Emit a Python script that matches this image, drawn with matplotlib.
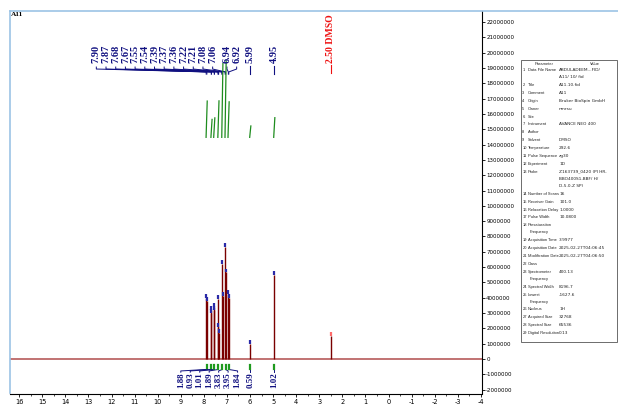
import matplotlib
matplotlib.use("Agg")
import matplotlib.pyplot as plt
from matplotlib.lines import Line2D
from matplotlib.patches import Rectangle
from matplotlib.ticker import MultipleLocator, FuncFormatter

# ---------------- data ----------------
sample_title = "A11"

# spectrum peaks (ppm, intensity)
peak_ppm = [7.90, 7.87, 7.68, 7.67, 7.55, 7.54, 7.39, 7.37, 7.36, 7.22, 7.17,
            7.08, 7.05, 6.94, 6.92, 5.99, 4.95, 2.50]
peak_height = [4.0e6, 3.8e6, 3.2e6, 3.0e6, 3.4e6, 3.2e6, 3.9e6, 2.1e6, 1.7e6,
               6.2e6, 4.1e6, 7.3e6, 5.65e6, 4.25e6, 4.0e6, 1.0e6, 5.5e6, 1.5e6]

cluster_labels = ["7.90", "7.87", "7.68", "7.67", "7.55", "7.54", "7.39", "7.37",
                  "7.36", "7.22", "7.21", "7.08", "7.06", "6.94", "6.92"]
single_labels = ["5.99", "4.95"]
solvent_label = "2.50 DMSO"

integral_ppm = [7.88, 7.67, 7.55, 7.37, 7.20, 7.06, 6.93, 5.99, 4.95]
integral_values = [1.88, 0.93, 1.01, 1.89, 3.83, 3.95, 1.84, 0.59, 1.02]

x_ticks = list(range(16, -5, -1))
y_ticks = [v * 1000000 for v in range(-2, 23)]

param_numbers = list(range(1, 30))
param_names = ["Data File Name", "Title", "Comment", "Origin", "Owner", "Site",
               "Instrument", "Author", "Solvent", "Temperature", "Pulse Sequence",
               "Experiment", "Probe", "Number of Scans", "Receiver Gain",
               "Relaxation Delay", "Pulse Width", "Presaturation\nFrequency",
               "Acquisition Time", "Acquisition Date", "Modification Date", "Class",
               "Spectrometer\nFrequency", "Spectral Width", "Lowest\nFrequency",
               "Nucleus", "Acquired Size", "Spectral Size", "Digital Resolution"]
param_values = ["ABDULADEEM...FID/\nA11/ 10/ fid", "A11.10.fid", "A11",
                "Bruker BioSpin GmbH", "nmrsu", "", "AVANCE NEO 400", "", "DMSO",
                "292.6", "zg30", "1D",
                "Z163739_0420 (PI HR-\nBBO400S1-BBF/ H/\nD-5.0-Z SP)",
                "16", "101.0", "1.0000", "10.0800", "", "3.9977",
                "2025-02-27T04:06:45", "2025-02-27T04:06:50", "", "400.13",
                "8196.7", "-1627.6", "1H", "32768", "65536", "0.13"]

# ---------------- figure ----------------
W, H = 618, 407
fig = plt.figure(figsize=(W / 100, H / 100), dpi=100)
fig.patch.set_facecolor("white")


def fx(x):
    return x / W


def fy(y):
    return 1 - y / H


ax = fig.add_axes([fx(10), fy(393.5), 472 / W, 382.5 / H])
ax.set_xlim(16.4, -4.05)
ax.set_ylim(-2.252e6, 22.718e6)

ax.spines["top"].set_visible(False)
ax.spines["left"].set_color("#9cc3e5")
ax.spines["left"].set_linewidth(1.2)
ax.spines["right"].set_color("black")
ax.spines["right"].set_linewidth(0.8)
ax.spines["bottom"].set_color("black")
ax.spines["bottom"].set_linewidth(0.8)

ax.yaxis.tick_right()
ax.set_yticks(y_ticks)
ax.yaxis.set_major_formatter(FuncFormatter(lambda v, p: "%d" % int(round(v))))
ax.tick_params(axis="y", which="both", left=False, right=True, direction="out",
               length=2.2, width=0.6, labelsize=4.0, pad=0.8)
ax.set_xticks(x_ticks)
ax.xaxis.set_major_formatter(FuncFormatter(lambda v, p: "%d" % int(round(v))))
ax.xaxis.set_minor_locator(MultipleLocator(0.5))
ax.tick_params(axis="x", which="major", direction="out", length=2.5, width=0.6,
               labelsize=4.8, pad=1.3)
ax.tick_params(axis="x", which="minor", direction="out", length=1.3, width=0.5)

# spectrum
ax.axhline(0, color="#b04c4c", lw=1.1, zorder=2)
ax.vlines(peak_ppm, 0, peak_height, color="#7a0000", lw=1.0, zorder=3)
# peak-pick markers
navy = "#101080"
ax.vlines(peak_ppm[:-1], [h for h in peak_height[:-1]],
          [h + 0.25e6 for h in peak_height[:-1]], color="#2a2aa8", lw=1.6, zorder=4)
ax.vlines(peak_ppm[-1:], peak_height[-1:], [peak_height[-1] + 0.25e6],
          color="#ff6b6b", lw=1.6, zorder=4)

# integral curves
int_base = 14.47e6
int_scale = 1.26e6
for c, v in zip(integral_ppm, integral_values):
    ax.plot([c + 0.025, c - 0.025], [int_base, int_base + v * int_scale],
            color="#1e8c1e", lw=0.9, zorder=3)

# ---- top peak labels ----
lab_font = dict(family=["Liberation Serif", "DejaVu Serif"], weight="bold")
step = 0.42
n_left = 13
left_anchor = 7.62
right_anchor = 7.00
label_pos = [left_anchor + step * (n_left - 1 - k) for k in range(n_left)]
label_pos += [right_anchor - step * k for k in range(len(cluster_labels) - n_left)]
y_text = 19.3e6
y1, y2, y3, y4 = 19.06e6, 18.93e6, 18.74e6, 18.6e6
for lab, lx in zip(cluster_labels, label_pos):
    ax.text(lx, y_text, lab, rotation=90, ha="center", va="bottom", color=navy,
            fontsize=7.5, **lab_font)
    px = float(lab)
    ax.plot([lx, lx, px, px], [y1, y2, y3, y4], color=navy, lw=0.7)
for lab in single_labels:
    px = float(lab)
    ax.text(px, y_text, lab, rotation=90, ha="center", va="bottom", color=navy,
            fontsize=7.5, **lab_font)
    ax.plot([px, px], [19.1e6, 18.6e6], color=navy, lw=0.8)
dmso_x = float(solvent_label.split()[0])
ax.text(dmso_x, 19.3e6, solvent_label, rotation=90, ha="center", va="bottom",
        color="#ee1111", fontsize=7.0, **lab_font)
ax.plot([dmso_x, dmso_x], [19.2e6, 18.65e6], color="#ee1111", lw=0.8)

# ---- bottom integral labels ----
n_cluster_int = 7
int_step = 0.41
int_left = 9.0
int_label_pos = [int_left - int_step * k for k in range(n_cluster_int)]
int_label_pos += integral_ppm[n_cluster_int:]
for v, lx, rx in zip(integral_values, int_label_pos, integral_ppm):
    ax.text(lx, -0.88e6, "%.2f" % v, rotation=90, ha="center", va="top",
            color=navy, fontsize=6.4, **lab_font)
    ax.plot([lx, lx, rx, rx], [-0.86e6, -0.78e6, -0.68e6, -0.62e6], color=navy,
            lw=0.7)
    ax.plot([rx, rx], [-0.42e6, -0.64e6], color="#1e9a1e", lw=1.6)

# ---- frame lines ----
fig.add_artist(Line2D([fx(10), 1.0], [fy(11), fy(11)], color="#9cc3e5", lw=1.2,
                      transform=fig.transFigure))

fig.text(fx(11), fy(15), sample_title, ha="left", va="center", fontsize=5.3,
         family=["Liberation Serif", "DejaVu Serif"], weight="bold")

# ---- parameter table ----
name_font = dict(fontsize=2.9, family=["Liberation Sans", "DejaVu Sans"],
                 color="#222222")
val_font = dict(fontsize=3.1, family=["DejaVu Sans"], color="#222222")
fig.add_artist(Rectangle((fx(521), fy(342)), 96 / W, 282 / H, fill=False,
                         ec="#555555", lw=0.6, transform=fig.transFigure))
fig.text(fx(544), fy(64), "Parameter", ha="center", va="center", **name_font)
fig.text(fx(595), fy(64), "Value", ha="center", va="center", **name_font)
row_y = 70.0
line_h = 7.0
for num, name, val in zip(param_numbers, param_names, param_values):
    fig.text(fx(522.3), fy(row_y), str(num), ha="left", va="center", **name_font)
    name_lines = name.split("\n")
    for i, nl in enumerate(name_lines):
        fig.text(fx(527.6 + (2.5 if i else 0)), fy(row_y + i * line_h), nl,
                 ha="left", va="center", **name_font)
    val_lines = val.split("\n") if val else []
    for i, vl in enumerate(val_lines):
        fig.text(fx(559), fy(row_y + i * line_h), vl, ha="left", va="center",
                 **val_font)
    n = max(len(name_lines), len(val_lines), 1)
    row_y += 7.9 + (n - 1) * line_h

fig.savefig("out.png", dpi=100)
